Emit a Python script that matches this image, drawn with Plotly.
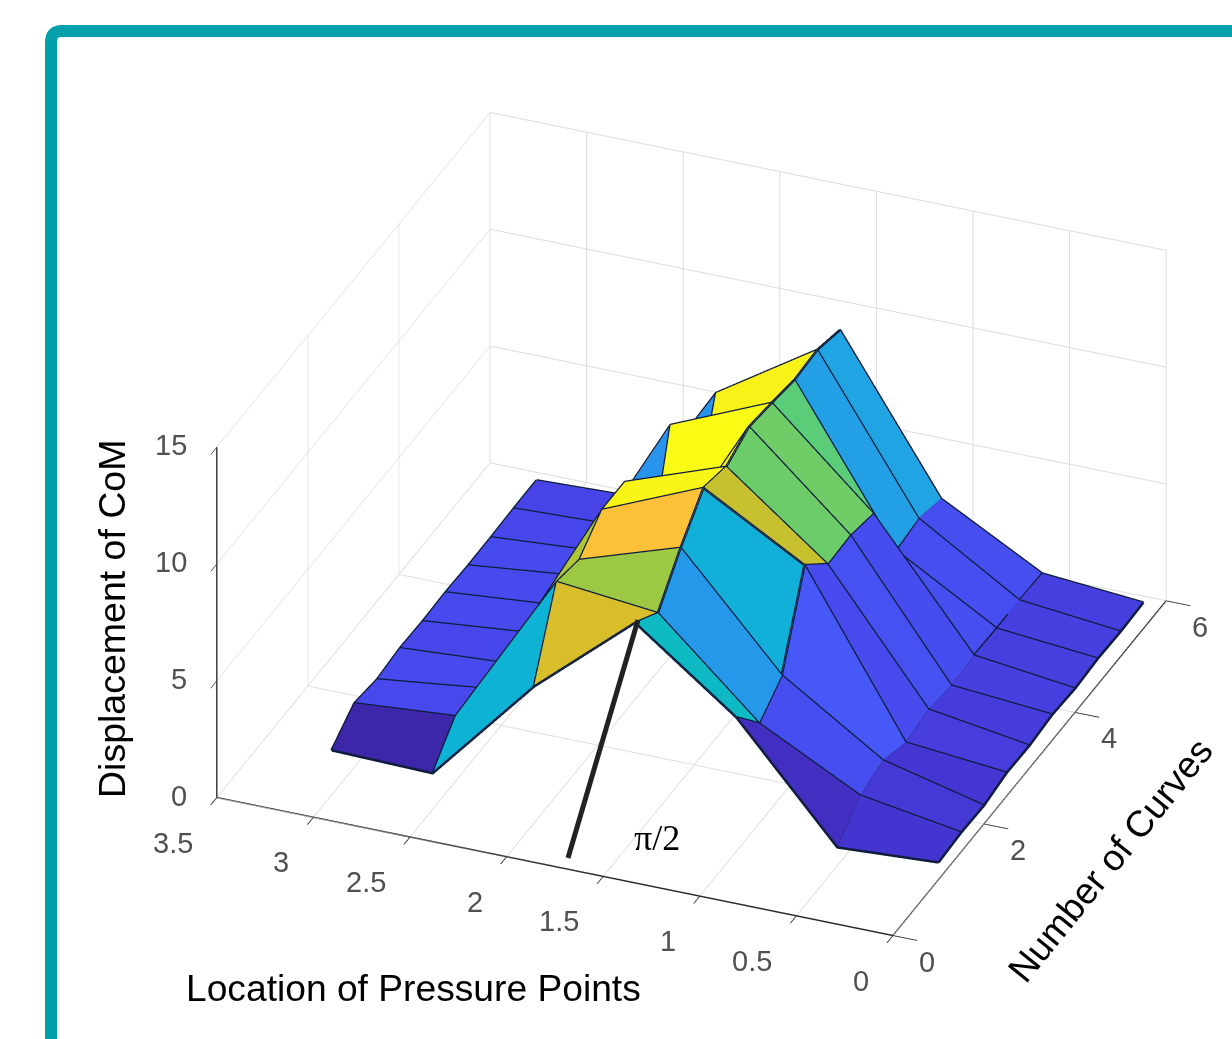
import math
import plotly.graph_objects as go

W, H = 1232, 1039

x_values = [0, math.pi/6, math.pi/3, math.pi/2, 2*math.pi/3, 5*math.pi/6, math.pi]
y_values = [1, 1.5, 2, 2.5, 3, 3.5, 4, 4.5, 5, 5.5]
# one row per y value, one column per x value
z_y1_0 = [0.74, 0.50, 5.19, 8.35, 4.73, 0.14, 0.24]
z_y1_5 = [0.83, 1.53, 3.74, 7.57, 8.02, 1.39, 1.06]
z_y2_0 = [0.79, 1.84, 4.60, 9.17, 7.77, 1.40, 0.89]
z_y2_5 = [1.00, 1.41, 8.12, 10.54, 8.72, 1.30, 1.03]
z_y3_0 = [0.97, 1.63, 6.97, 10.25, 8.72, 1.40, 0.99]
z_y3_5 = [1.10, 1.46, 7.02, 10.77, 3.60, 1.40, 1.03]
z_y4_0 = [1.02, 1.55, 6.76, 10.60, 8.77, 1.45, 0.99]
z_y4_5 = [1.11, 1.51, 3.98, 10.39, 3.60, 1.30, 1.00]
z_y5_0 = [1.07, 1.52, 4.15, 10.48, 7.75, 1.20, 1.04]
z_y5_5 = [1.12, 1.48, 3.80, 10.14, 1.20, 1.20, 1.05]
z_rows = [z_y1_0, z_y1_5, z_y2_0, z_y2_5, z_y3_0, z_y3_5, z_y4_0, z_y4_5, z_y5_0, z_y5_5]

x_ticks = [0, 0.5, 1, 1.5, 2, 2.5, 3, 3.5]
y_ticks = [0, 2, 4, 6]
z_ticks = [0, 5, 10, 15]

parula = [
    (.2422,.1504,.6603),(.2676,.2060,.8160),(.2803,.2782,.9221),(.2778,.3557,.9773),
    (.2440,.4358,.9988),(.1810,.5180,.9740),(.1540,.5902,.9218),(.1180,.6550,.8820),
    (.0297,.7082,.8163),(.0700,.7455,.7257),(.1938,.7758,.6251),(.3160,.7990,.4990),
    (.5044,.7993,.3480),(.6980,.7745,.2070),(.8634,.7406,.1596),(.9850,.7360,.2385),
    (.9900,.8060,.1800),(.9750,.9300,.1100),(.9769,.9839,.0805),
]

def color_of(v, lo, hi):
    t = (v - lo) / (hi - lo) * (len(parula) - 1)
    i = min(int(t), len(parula) - 2)
    f = t - i
    c = [parula[i][n] * (1 - f) + parula[i + 1][n] * f for n in range(3)]
    return "rgb(%d,%d,%d)" % tuple(round(255 * a) for a in c)

ny, nx = len(y_values), len(x_values)
flat = [v for r in z_rows for v in r]
lo, hi = min(flat), max(flat)
vx = [x_values[j] for k in range(ny) for j in range(nx)]
vy = [y_values[k] for k in range(ny) for j in range(nx)]
vz = flat
I, J, K, FC = [], [], [], []
for k in range(ny - 1):
    for j in range(nx - 1):
        a = k * nx + j
        b = a + 1
        c = a + nx + 1
        d = a + nx
        col = color_of(z_rows[k][j], lo, hi)
        I += [a, a]; J += [b, c]; K += [c, d]; FC += [col, col]

fig = go.Figure()
fig.add_trace(go.Mesh3d(x=vx, y=vy, z=vz, i=I, j=J, k=K, facecolor=FC, flatshading=True,
                        lighting=dict(ambient=1, diffuse=0, specular=0, roughness=1, fresnel=0),
                        hoverinfo="skip", showscale=False))
# facet edges
ex, ey, ez = [], [], []
for k in range(ny):
    ex += x_values + [None]; ey += [y_values[k]] * nx + [None]; ez += z_rows[k] + [None]
for j in range(nx):
    ex += [x_values[j]] * ny + [None]; ey += y_values + [None]; ez += [r[j] for r in z_rows] + [None]
fig.add_trace(go.Scatter3d(x=ex, y=ey, z=ez, mode="lines", line=dict(color="#0e1c3c", width=5),
                           hoverinfo="skip", showlegend=False))

def axis(rng, ticks, ticklen):
    return dict(range=rng, tickvals=ticks, title=dict(text=""), showticklabels=False,
                showgrid=True, gridcolor="#dcdcdc", gridwidth=2, showbackground=False,
                showline=True, linecolor="#2a2a2a", linewidth=3, zeroline=False,
                ticks="outside", ticklen=ticklen, tickcolor="#333333", tickwidth=2,
                showspikes=False)

TICK_FONT = dict(family="Liberation Sans", size=29, color="#505050")
def tick_note(x, y, z, text, xanchor, xshift, yshift):
    return dict(x=x, y=y, z=z, text=text, showarrow=False, xanchor=xanchor, yanchor="middle",
                xshift=xshift, yshift=yshift, font=TICK_FONT)
scene_notes = (
    [tick_note(t, 0, 0, str(t), "right", -22, -45) for t in x_ticks]
    + [tick_note(0, t, 0, str(t), "center", 34, -26) for t in y_ticks]
    + [tick_note(3.5, 0, t, str(t), "right", -28, 2) for t in z_ticks]
)

px = lambda v: v / W
py = lambda v: 1 - v / H
frame = "M %f,%f L %f,%f Q %f,%f %f,%f L %f,%f" % (px(51), py(1100), px(51), py(42), px(51), py(31), px(62), py(31), px(1300), py(31))
shapes = [
    dict(type="path", xref="paper", yref="paper", path=frame, line=dict(color="#00a0aa", width=12), layer="above"),
    dict(type="line", xref="paper", yref="paper", x0=px(568), y0=py(858), x1=px(638), y1=py(620),
         line=dict(color="#222222", width=5), layer="above"),
]
def note(text, x, y, size, angle=0, family="Liberation Sans"):
    return dict(text=text, x=px(x), y=py(y), xref="paper", yref="paper", showarrow=False,
                xanchor="center", yanchor="middle", textangle=angle,
                font=dict(family=family, size=size, color="#000000"))
notes = [
    note("Location of Pressure Points", 413, 988, 37.2),
    note("Displacement of CoM", 112, 619, 37.5, -90),
    note("Number of Curves", 1110, 860, 37, -51),
    note("π/2", 657, 838, 36, 0, "Liberation Serif"),
]

az = math.radians(-67.8); el = math.radians(30); dist = 1.285
fig.update_layout(
    width=W, height=H, margin=dict(l=0, r=0, t=0, b=0), paper_bgcolor="white", showlegend=False,
    shapes=shapes, annotations=notes,
    scene=dict(
        domain=dict(x=[0.1225, 1], y=[0, 0.9915]),
        xaxis=axis([3.5, 0], x_ticks, 26), yaxis=axis([0, 6], y_ticks, 16), zaxis=axis([0, 15], z_ticks, 24),
        aspectmode="manual", aspectratio=dict(x=1.418, y=1.404, z=0.7856),
        annotations=scene_notes,
        camera=dict(projection=dict(type="orthographic"),
                    eye=dict(x=dist*math.cos(el)*math.cos(az), y=dist*math.cos(el)*math.sin(az), z=dist*math.sin(el)),
                    center=dict(x=0, y=0, z=0), up=dict(x=0, y=0, z=1)),
    ),
)
fig.write_html("out.html", config=dict(displayModeBar=False), post_script="document.body.style.margin='0';")
